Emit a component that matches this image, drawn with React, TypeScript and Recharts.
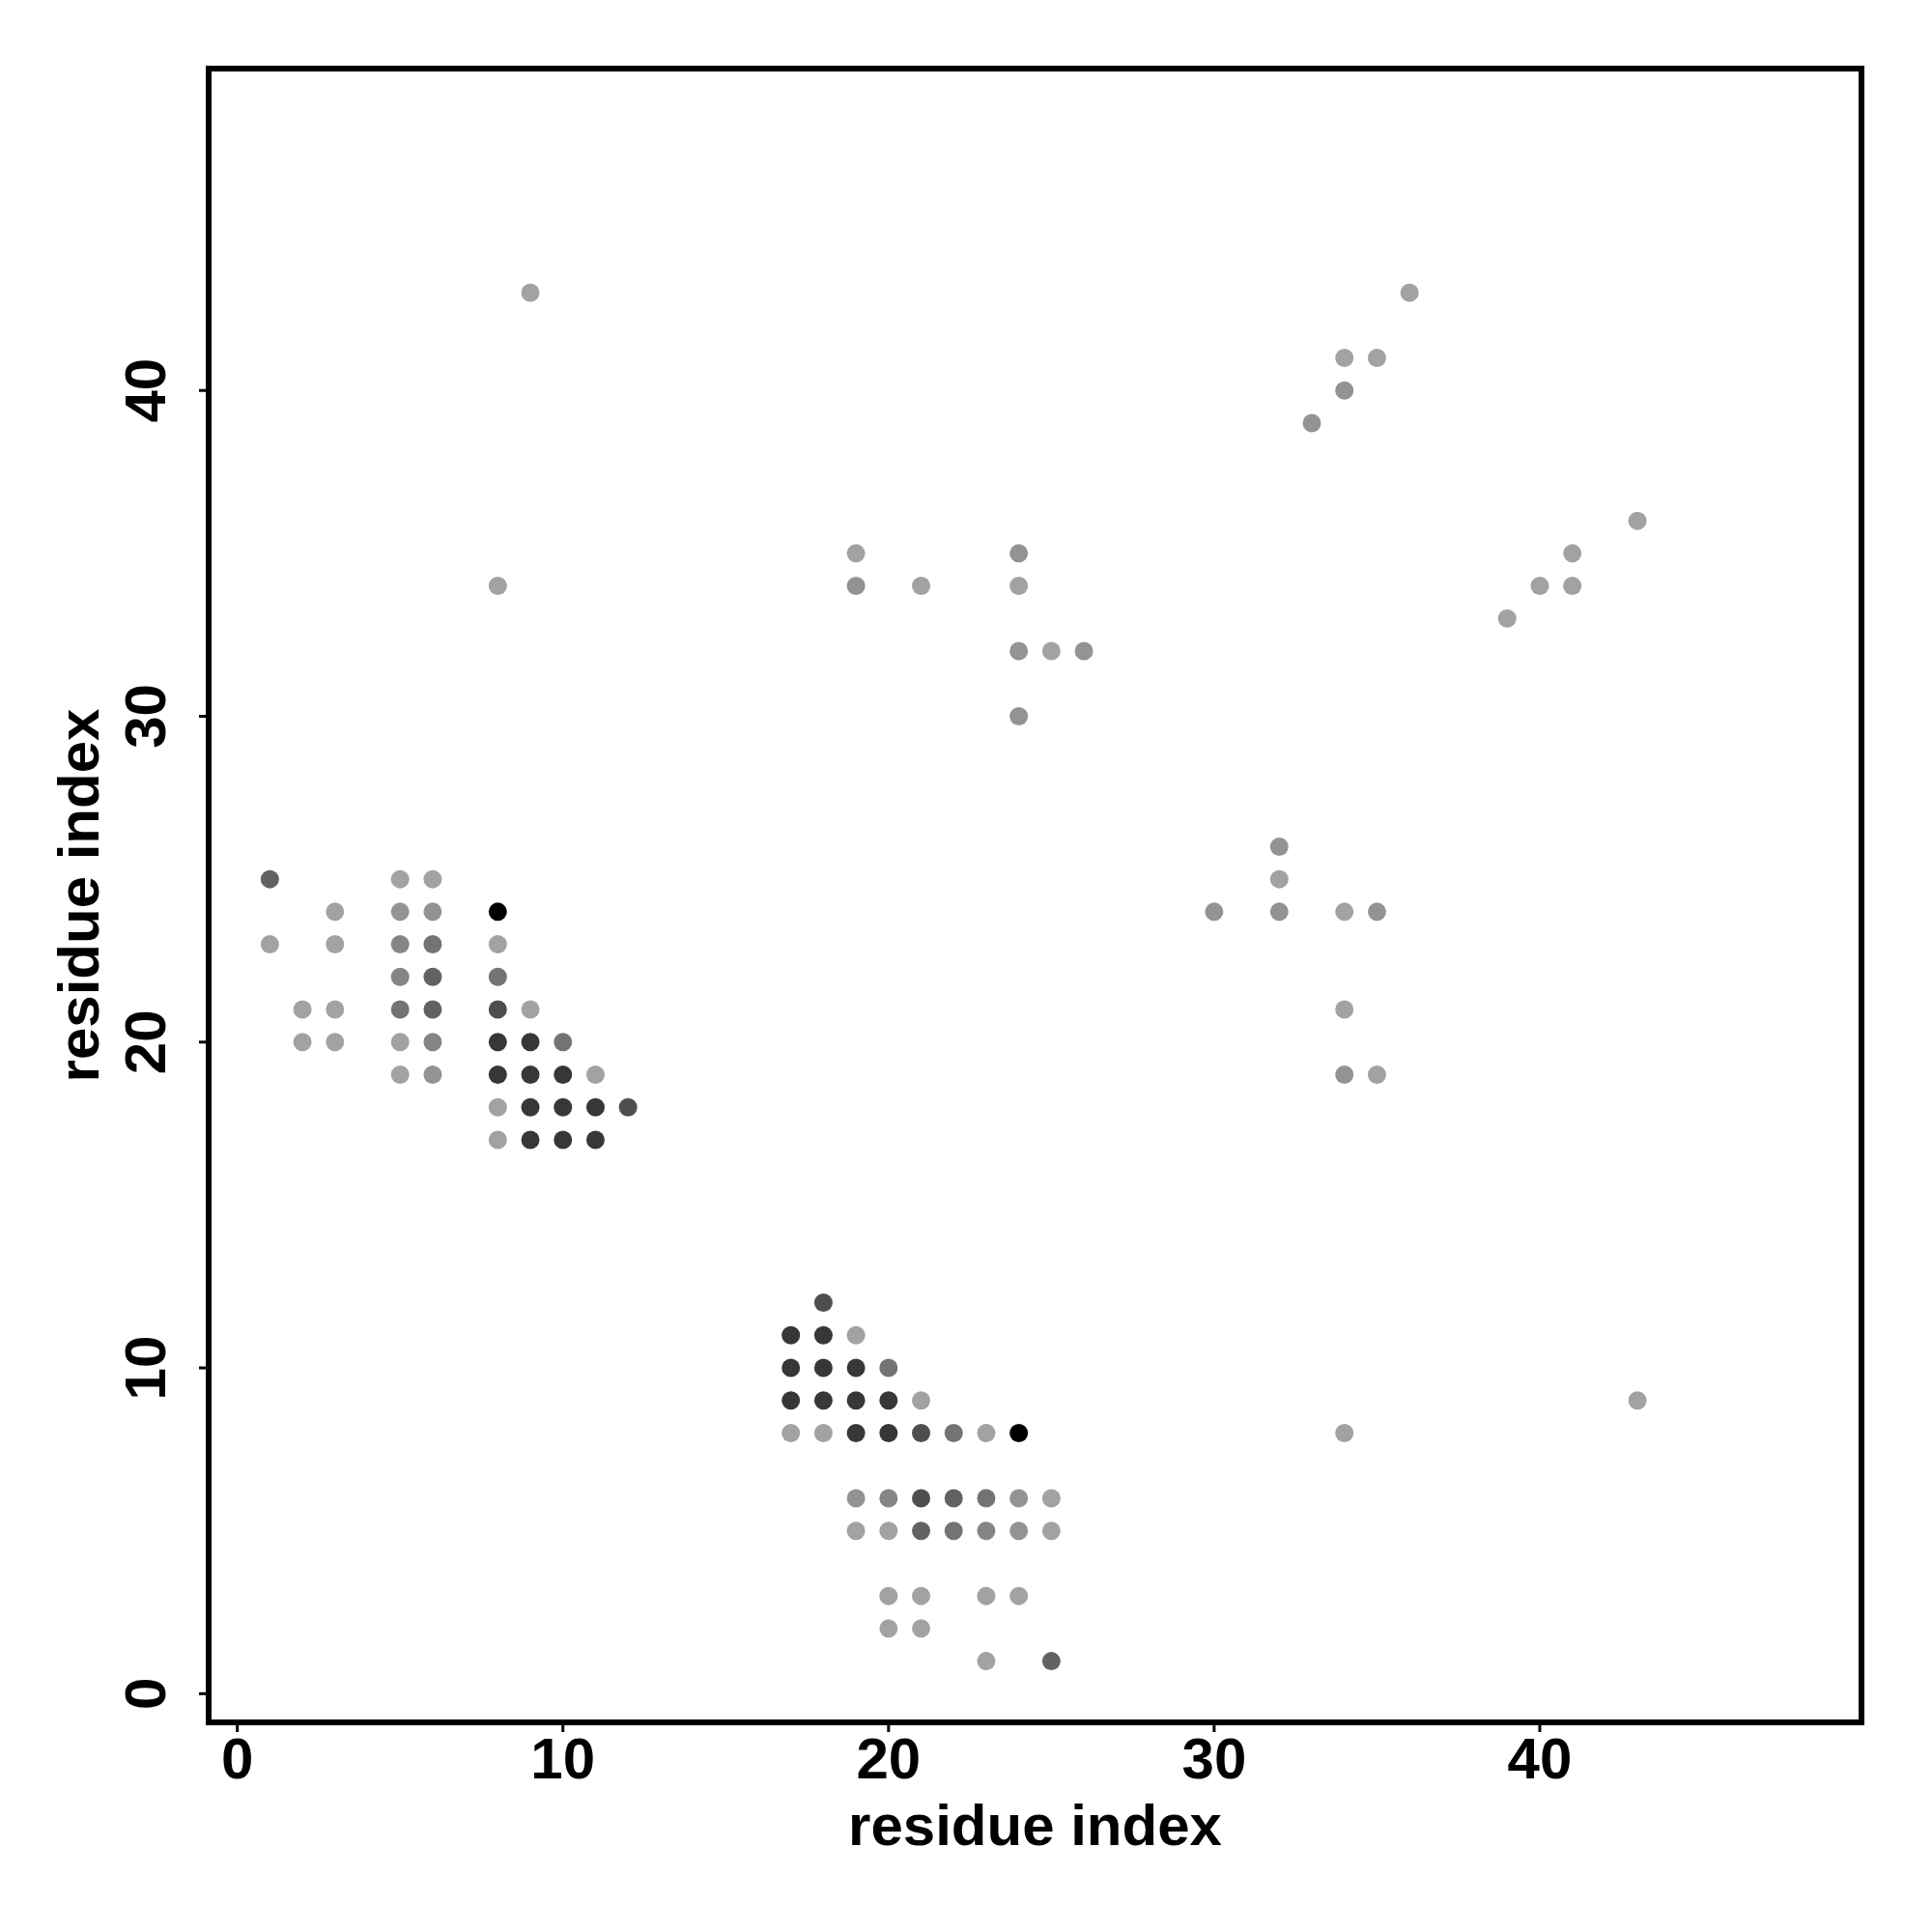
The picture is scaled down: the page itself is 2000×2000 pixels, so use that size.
import { ScatterChart, Scatter, XAxis, YAxis, ReferenceArea } from 'recharts'

// contact map points, grouped by grey shade (darkest first)
const blackPts = [[8, 24], [24, 8]]
const shade1Pts = [
  [8, 20], [9, 20], [8, 19], [9, 19], [10, 19], [9, 18], [10, 18], [11, 18],
  [9, 17], [10, 17], [11, 17], [17, 11], [18, 11], [17, 10], [18, 10], [19, 10],
  [17, 9], [18, 9], [19, 9], [20, 9], [19, 8], [20, 8],
]
const shade2Pts = [[8, 21], [12, 18], [18, 12], [21, 8], [21, 6]]
const shade3Pts = [[1, 25], [6, 22], [6, 21], [22, 6], [21, 5], [25, 1]]
const shade4Pts = [[6, 23], [8, 22], [5, 21], [10, 20], [20, 10], [22, 8], [23, 6], [22, 5]]
const shade5Pts = [[5, 23], [5, 22], [6, 20], [20, 6], [23, 5]]
const shade6Pts = [
  [5, 24], [6, 24], [6, 19], [24, 6], [24, 5], [19, 6], [24, 35], [24, 30],
  [32, 26], [30, 24], [35, 24], [32, 24], [34, 19], [19, 34], [24, 32], [26, 32],
  [34, 40], [33, 39],
]
const shade7Pts = [
  [9, 43], [36, 43], [34, 41], [35, 41], [43, 36], [19, 35], [41, 35], [8, 34],
  [21, 34], [24, 34], [40, 34], [41, 34], [39, 33], [25, 32], [5, 25], [6, 25],
  [32, 25], [3, 24], [34, 24], [1, 23], [3, 23], [8, 23], [2, 21], [3, 21],
  [9, 21], [34, 21], [2, 20], [3, 20], [5, 20], [5, 19], [11, 19], [35, 19],
  [8, 18], [8, 17], [19, 11], [21, 9], [43, 9], [17, 8], [18, 8], [23, 8],
  [34, 8], [25, 6], [19, 5], [20, 5], [25, 5], [20, 3], [21, 3], [23, 3],
  [24, 3], [20, 2], [21, 2], [23, 1],
]

const groups = [
  { pts: shade7Pts, fill: '#a2a2a2' },
  { pts: shade6Pts, fill: '#939393' },
  { pts: shade5Pts, fill: '#858585' },
  { pts: shade4Pts, fill: '#737373' },
  { pts: shade3Pts, fill: '#626262' },
  { pts: shade2Pts, fill: '#4e4e4e' },
  { pts: shade1Pts, fill: '#373737' },
  { pts: blackPts, fill: '#000000' },
]

const xTicks = [0, 10, 20, 30, 40]
const yTicks = [0, 10, 20, 30, 40]
const AXIS_MIN = -0.88
const AXIS_MAX = 49.88

const FONT = '"Liberation Sans", Arial, Helvetica, sans-serif'
const FS = 60

const toRows = (pts: number[][]) => pts.map(([x, y]) => ({ x, y }))

const Dot = (fill: string) => (props: any) => (
  <circle cx={props.cx} cy={props.cy} r={9.5} fill={fill} />
)

const YTick = (props: any) => {
  const { y, payload } = props
  const bx = 171
  return (
    <text
      x={bx}
      y={y}
      transform={`rotate(-90, ${bx}, ${y})`}
      textAnchor="middle"
      fontFamily={FONT}
      fontWeight="bold"
      fontSize={FS}
      fill="#000"
    >
      {payload.value}
    </text>
  )
}

const XTitle = (props: any) => {
  const vb = props.viewBox
  return (
    <text
      x={vb.x + vb.width / 2}
      y={vb.y + 127}
      textAnchor="middle"
      fontFamily={FONT}
      fontWeight="bold"
      fontSize={FS}
      fill="#000"
    >
      residue index
    </text>
  )
}

const YTitle = (props: any) => {
  const vb = props.viewBox
  const cy = vb.y + vb.height / 2
  return (
    <text
      x={102}
      y={cy}
      transform={`rotate(-90, 102, ${cy})`}
      textAnchor="middle"
      fontFamily={FONT}
      fontWeight="bold"
      fontSize={FS}
      fill="#000"
    >
      residue index
    </text>
  )
}

export default function App() {
  return (
    <div style={{ position: 'absolute', left: 0, top: 0, background: '#fff' }}>
      <ScatterChart
        width={2000}
        height={2000}
        margin={{ top: 71, right: 73, bottom: 0, left: 0 }}
      >
        <XAxis
          type="number"
          dataKey="x"
          domain={[AXIS_MIN, AXIS_MAX]}
          ticks={xTicks}
          allowDataOverflow
          height={217}
          axisLine={false}
          tickLine={{ stroke: '#000', strokeWidth: 3 }}
          tickSize={10}
          tickMargin={5}
          tick={{ fontFamily: FONT, fontWeight: 'bold', fontSize: FS, fill: '#000' }}
          label={<XTitle />}
        />
        <YAxis
          type="number"
          dataKey="y"
          domain={[AXIS_MIN, AXIS_MAX]}
          ticks={yTicks}
          allowDataOverflow
          width={216}
          axisLine={false}
          tickLine={{ stroke: '#000', strokeWidth: 3 }}
          tickSize={10}
          tick={<YTick />}
          label={<YTitle />}
        />
        {groups.map((g, i) => (
          <Scatter
            key={i}
            data={toRows(g.pts)}
            fill={g.fill}
            shape={Dot(g.fill)}
            isAnimationActive={false}
          />
        ))}
        <ReferenceArea
          x1={AXIS_MIN}
          x2={AXIS_MAX}
          y1={AXIS_MIN}
          y2={AXIS_MAX}
          fill="none"
          fillOpacity={0}
          stroke="#000"
          strokeWidth={6}
          ifOverflow="visible"
        />
      </ScatterChart>
    </div>
  )
}
